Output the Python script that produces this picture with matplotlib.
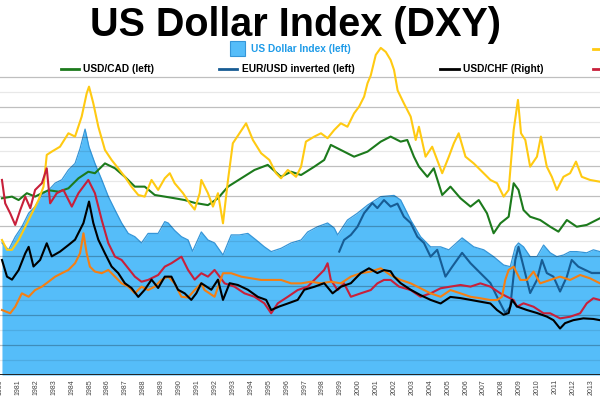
import matplotlib
matplotlib.use("Agg")
import matplotlib.pyplot as plt
from matplotlib.lines import Line2D
from matplotlib.patches import Rectangle

plt.rcParams['font.family'] = ['Liberation Sans', 'DejaVu Sans']

# ---------------- data ----------------
years_ticks = list(range(1980, 2014))

dxy_t = [1980.11, 1980.48, 1980.85, 1981.22, 1981.60, 1981.96, 1982.34, 1982.71, 1983.08, 1983.45,
         1983.82, 1984.19, 1984.47, 1984.75, 1984.97, 1985.30, 1985.68, 1986.05, 1986.42, 1986.79,
         1987.16, 1987.53, 1987.90, 1988.27, 1988.83, 1989.20, 1989.39, 1989.75, 1990.13, 1990.50,
         1990.75, 1991.24, 1991.61, 1991.98, 1992.45, 1992.91, 1993.37, 1993.84, 1994.30, 1994.76,
         1995.14, 1995.69, 1996.25, 1996.81, 1997.18, 1997.73, 1998.29, 1998.66, 1998.85, 1999.40,
         1999.96, 2000.52, 2001.26, 2002.00, 2002.37, 2002.93, 2003.48, 2004.04, 2004.60, 2005.06,
         2005.80, 2006.45, 2007.01, 2007.56, 2008.12, 2008.49, 2008.77, 2008.95, 2009.23, 2009.60,
         2009.98, 2010.35, 2010.72, 2011.09, 2011.46, 2011.83, 2012.20, 2012.76, 2013.13, 2013.50]
dxy_v = [88.6, 84.0, 92.8, 99.5, 108.6, 113.0, 120.8, 124.0, 128.8, 131.0,
         137.6, 142.0, 152.0, 165.0, 153.0, 142.0, 131.0, 119.7, 110.7, 102.0,
         95.0, 92.8, 88.6, 95.0, 95.0, 102.9, 102.0, 97.0, 92.8, 90.6,
         83.0, 96.0, 90.6, 88.6, 80.5, 94.0, 94.0, 95.0, 90.6, 86.0,
         82.8, 85.0, 88.6, 90.6, 96.0, 99.5, 102.0, 98.6, 94.0, 104.0,
         108.6, 114.0, 119.7, 120.5, 117.4, 104.0, 92.8, 86.0, 86.0, 84.0,
         92.0, 86.0, 84.0, 79.4, 73.8, 72.7, 86.0, 88.6, 86.0, 79.4,
         79.4, 87.2, 82.0, 79.4, 80.5, 82.8, 82.8, 82.0, 84.0, 82.8]

cad_t = [1980.11, 1980.67, 1981.04, 1981.50, 1981.96, 1982.34, 1982.71, 1983.27, 1983.82, 1984.38,
         1984.93, 1985.30, 1985.86, 1986.42, 1986.97, 1987.53, 1988.08, 1988.64, 1989.20, 1989.75,
         1990.31, 1990.87, 1991.61, 1992.17, 1992.73, 1993.47, 1994.21, 1994.95, 1995.69, 1996.25,
         1996.81, 1997.55, 1998.10, 1998.47, 1999.03, 1999.77, 2000.52, 2001.26, 2001.81, 2002.37,
         2002.74, 2003.11, 2003.39, 2003.86, 2004.22, 2004.69, 2005.15, 2005.71, 2006.27, 2006.73,
         2007.19, 2007.56, 2007.94, 2008.40, 2008.68, 2008.95, 2009.23, 2009.60, 2010.16, 2010.72,
         2011.18, 2011.65, 2012.20, 2012.76, 2013.50]
cad_v = [118.6, 119.7, 117.4, 122.0, 119.7, 122.0, 124.0, 123.0, 125.3, 132.0,
         136.4, 135.4, 142.0, 138.7, 133.0, 126.4, 126.4, 120.8, 119.7, 118.6,
         117.4, 115.5, 114.0, 118.6, 126.4, 132.0, 137.6, 141.0, 133.0, 136.4,
         134.2, 139.8, 144.3, 154.4, 151.0, 146.5, 149.9, 156.6, 160.0, 156.6,
         157.7, 146.5, 139.8, 133.0, 138.7, 120.8, 126.4, 118.6, 113.0, 117.4,
         108.5, 95.1, 101.8, 106.2, 128.7, 124.2, 110.7, 106.2, 104.0, 99.5,
         96.2, 104.0, 99.5, 100.7, 105.2]

eur_t = [1998.94, 1999.21, 1999.59, 1999.96, 2000.33, 2000.79, 2001.07, 2001.44, 2001.81, 2002.19,
         2002.55, 2002.93, 2003.30, 2003.67, 2004.04, 2004.41, 2004.87, 2005.25, 2005.80, 2006.27,
         2006.82, 2007.38, 2007.84, 2008.21, 2008.49, 2008.77, 2008.95, 2009.23, 2009.60, 2009.98,
         2010.26, 2010.53, 2010.90, 2011.27, 2011.65, 2011.92, 2012.29, 2012.67, 2013.04, 2013.50]
eur_v = [82.8, 90.6, 94.0, 99.5, 108.6, 115.4, 112.0, 117.4, 113.0, 115.0,
         106.2, 102.0, 92.8, 88.6, 79.4, 84.0, 66.0, 72.7, 82.0, 75.0,
         68.4, 61.7, 50.3, 41.6, 45.8, 77.2, 86.0, 72.7, 55.0, 63.8,
         77.2, 68.4, 66.0, 56.0, 66.0, 77.2, 72.7, 70.5, 68.4, 68.4]

chf_t = [1980.11, 1980.39, 1980.67, 1981.04, 1981.41, 1981.60, 1981.87, 1982.24, 1982.61, 1982.89,
         1983.35, 1983.82, 1984.19, 1984.66, 1984.97, 1985.21, 1985.49, 1985.86, 1986.23, 1986.60,
         1986.97, 1987.34, 1987.72, 1988.08, 1988.46, 1988.83, 1989.20, 1989.57, 1989.94, 1990.31,
         1990.68, 1990.96, 1991.24, 1991.80, 1992.17, 1992.45, 1992.82, 1993.28, 1993.84, 1994.40,
         1994.86, 1995.14, 1995.60, 1996.07, 1996.62, 1996.99, 1997.55, 1998.10, 1998.57, 1999.03,
         1999.59, 2000.14, 2000.60, 2001.07, 2001.44, 2001.81, 2002.00, 2002.37, 2002.93, 2003.48,
         2004.04, 2004.60, 2005.15, 2005.71, 2006.27, 2006.82, 2007.38, 2007.75, 2008.12, 2008.40,
         2008.59, 2008.86, 2009.42, 2009.98, 2010.53, 2010.90, 2011.27, 2011.55, 2012.01, 2012.57,
         2013.13, 2013.50]
chf_v = [1.93, 1.65, 1.60, 1.76, 2.04, 2.15, 1.82, 1.93, 2.21, 1.99,
         2.07, 2.18, 2.27, 2.55, 2.91, 2.55, 2.27, 2.04, 1.82, 1.71,
         1.54, 1.46, 1.31, 1.43, 1.60, 1.46, 1.65, 1.65, 1.43, 1.37,
         1.26, 1.37, 1.54, 1.43, 1.60, 1.26, 1.54, 1.51, 1.43, 1.31,
         1.26, 1.09, 1.15, 1.20, 1.26, 1.43, 1.48, 1.54, 1.37, 1.48,
         1.54, 1.71, 1.79, 1.71, 1.76, 1.74, 1.65, 1.54, 1.43, 1.34,
         1.26, 1.20, 1.31, 1.29, 1.26, 1.23, 1.20, 1.09, 1.01, 1.04,
         1.26, 1.15, 1.09, 1.04, 0.98, 0.92, 0.78, 0.87, 0.92, 0.95,
         0.94, 0.92]

yel_t = [1980.11, 1980.39, 1980.67, 1981.04, 1981.41, 1981.78, 1982.15, 1982.43, 1982.61, 1982.89,
         1983.35, 1983.82, 1984.19, 1984.56, 1984.84, 1984.97, 1985.21, 1985.49, 1985.86, 1986.23,
         1986.60, 1986.97, 1987.34, 1987.72, 1988.08, 1988.46, 1988.83, 1989.20, 1989.48, 1989.75,
         1990.22, 1990.59, 1990.87, 1991.15, 1991.24, 1991.61, 1991.89, 1992.17, 1992.45, 1992.73,
         1993.00, 1993.37, 1993.74, 1994.12, 1994.58, 1995.04, 1995.41, 1995.69, 1996.07, 1996.53,
         1996.81, 1997.08, 1997.55, 1997.92, 1998.29, 1998.66, 1999.03, 1999.40, 1999.77, 2000.05,
         2000.33, 2000.52, 2000.70, 2000.98, 2001.26, 2001.54, 2001.81, 2002.00, 2002.20, 2002.55,
         2002.93, 2003.21, 2003.39, 2003.76, 2004.13, 2004.69, 2005.06, 2005.34, 2005.61, 2005.99,
         2006.45, 2006.82, 2007.38, 2007.75, 2008.12, 2008.40, 2008.68, 2008.92, 2009.09, 2009.33,
         2009.60, 2009.98, 2010.20, 2010.53, 2010.81, 2011.09, 2011.46, 2011.83, 2012.16, 2012.48,
         2012.94, 2013.50]
yel_v = [90.6, 84.0, 84.0, 90.6, 99.5, 108.5, 117.4, 126.4, 147.7, 149.9,
         153.2, 162.2, 160.0, 173.4, 189.0, 193.5, 182.3, 166.6, 151.0, 144.3,
         138.7, 133.0, 126.4, 120.8, 119.7, 130.9, 124.2, 132.0, 135.4, 128.7,
         122.0, 115.2, 111.0, 122.0, 130.9, 122.0, 113.0, 122.0, 101.8, 130.9,
         155.5, 162.2, 168.9, 157.7, 148.8, 144.3, 135.4, 132.0, 137.6, 133.0,
         139.8, 156.6, 160.0, 162.2, 158.9, 164.4, 168.9, 166.6, 175.6, 180.1,
         186.8, 195.8, 201.0, 214.8, 219.5, 216.8, 211.4, 204.7, 191.0, 182.3,
         173.4, 157.7, 166.6, 146.5, 153.2, 135.4, 146.5, 155.5, 162.2, 146.5,
         142.0, 137.6, 130.9, 128.7, 119.7, 124.2, 164.4, 184.6, 162.2, 157.7,
         139.8, 146.5, 160.0, 139.8, 133.0, 124.2, 133.0, 135.4, 143.2, 133.0,
         130.9, 129.7]

red_t = [1980.11, 1980.29, 1980.57, 1980.85, 1981.13, 1981.41, 1981.69, 1981.96, 1982.34, 1982.61,
         1982.80, 1983.17, 1983.54, 1984.01, 1984.38, 1984.93, 1985.30, 1985.68, 1986.05, 1986.42,
         1986.79, 1987.16, 1987.53, 1987.90, 1988.27, 1988.83, 1989.20, 1989.57, 1990.13, 1990.50,
         1990.87, 1991.24, 1991.61, 1991.98, 1992.54, 1993.09, 1993.65, 1994.21, 1994.76, 1995.14,
         1995.51, 1996.07, 1996.62, 1997.18, 1997.73, 1998.10, 1998.29, 1998.47, 1998.85, 1999.21,
         1999.59, 2000.14, 2000.70, 2001.07, 2001.44, 2001.81, 2002.28, 2002.93, 2003.48, 2004.04,
         2004.60, 2005.15, 2005.71, 2006.27, 2006.82, 2007.38, 2007.94, 2008.31, 2008.68, 2008.86,
         2009.23, 2009.79, 2010.35, 2010.72, 2011.27, 2011.83, 2012.39, 2012.76, 2013.13, 2013.50]
red_v = [130.9, 115.2, 108.5, 100.7, 110.7, 119.7, 111.9, 124.2, 128.7, 138.7,
         115.2, 122.0, 124.2, 113.0, 122.0, 130.9, 122.0, 104.0, 88.4, 79.4,
         77.2, 71.6, 66.0, 62.6, 63.8, 67.1, 72.7, 75.0, 79.4, 70.5,
         64.0, 68.3, 66.0, 70.5, 61.5, 59.3, 54.8, 52.5, 48.1, 41.4,
         48.1, 52.5, 57.0, 59.3, 66.0, 70.5, 75.0, 63.8, 57.0, 61.5,
         52.5, 54.8, 57.0, 61.5, 63.8, 63.8, 59.3, 57.0, 52.5, 54.8,
         58.2, 59.3, 60.4, 59.3, 61.5, 59.3, 54.8, 52.5, 50.3, 45.8,
         48.1, 45.8, 41.4, 41.4, 38.0, 39.1, 41.4, 48.1, 51.5, 50.3]

org_t = [1980.11, 1980.57, 1980.85, 1981.22, 1981.60, 1981.96, 1982.34, 1982.71, 1983.08, 1983.45,
         1983.82, 1984.19, 1984.47, 1984.66, 1984.84, 1985.02, 1985.30, 1985.68, 1986.05, 1986.42,
         1986.79, 1987.16, 1987.53, 1987.90, 1988.27, 1988.64, 1989.01, 1989.39, 1989.75, 1990.13,
         1990.50, 1990.87, 1991.24, 1991.42, 1991.98, 1992.45, 1992.91, 1993.47, 1994.02, 1994.58,
         1995.14, 1995.69, 1996.25, 1996.81, 1997.36, 1997.92, 1998.47, 1999.03, 1999.59, 2000.14,
         2000.70, 2001.26, 2001.81, 2002.37, 2002.93, 2003.48, 2004.04, 2004.60, 2005.15, 2005.71,
         2006.27, 2006.82, 2007.38, 2007.75, 2008.03, 2008.21, 2008.40, 2008.68, 2009.05, 2009.42,
         2009.79, 2010.16, 2010.72, 2011.27, 2011.83, 2012.39, 2012.94, 2013.50]
org_v = [43.6, 41.4, 45.8, 54.8, 52.5, 57.0, 59.3, 62.6, 66.0, 68.3,
         70.5, 75.0, 81.7, 95.1, 81.7, 72.7, 69.4, 68.3, 70.5, 66.0,
         61.5, 59.3, 54.8, 59.3, 57.0, 59.3, 63.8, 66.0, 61.5, 52.5,
         52.0, 57.0, 61.5, 57.0, 52.5, 68.3, 68.3, 66.0, 64.9, 63.8,
         63.8, 63.8, 61.5, 61.5, 62.6, 61.5, 62.6, 61.5, 66.0, 68.3,
         69.4, 71.6, 67.0, 63.8, 61.5, 58.2, 54.8, 52.5, 57.0, 54.8,
         52.5, 51.5, 50.3, 50.3, 52.5, 63.8, 70.5, 72.7, 63.8, 63.8,
         69.4, 61.5, 63.8, 66.0, 63.8, 67.1, 64.9, 61.5]

# ---------------- styling ----------------
C_FILL = '#55BDF9'
C_EDGE = '#3596D8'
C_EUR = '#175C94'
C_CAD = '#1C7A1C'
C_YEL = '#FFCA12'
C_RED = '#C8203A'
C_ORG = '#F57F12'
C_CHF = '#000000'

fig = plt.figure(figsize=(6, 4), dpi=100)
Y_TOP = 224.8
ax = fig.add_axes([0.0, 25 / 400, 1.0, 335 / 400])
ax.set_xlim(1980.11, 2013.50)
ax.set_ylim(0, Y_TOP)

ax.fill_between(dxy_t, dxy_v, 0, color=C_FILL, lw=0, zorder=1)
ax.plot(dxy_t, dxy_v, color=C_EDGE, lw=0.9, zorder=1.2)

for v in range(10, 201, 10):
    if v % 20 == 0:
        ax.axhline(v, color='black', alpha=0.25, lw=0.9, zorder=1.5)
    else:
        ax.axhline(v, color='black', alpha=0.09, lw=0.9, zorder=1.5)
ax.axhline(0, color='#222222', lw=1.4, zorder=5)

lw = 1.5
ax.plot(eur_t, eur_v, color=C_EUR, lw=lw, zorder=3)
ax.plot(cad_t, cad_v, color=C_CAD, lw=lw, zorder=3)
ax.plot(yel_t, yel_v, color=C_YEL, lw=lw, zorder=3, clip_on=False)
ax.plot(red_t, red_v, color=C_RED, lw=lw, zorder=3)
ax.plot(org_t, org_v, color=C_ORG, lw=lw, zorder=3)

ax2 = ax.twinx()
ax2.set_ylim(0, Y_TOP / 40)
ax2.plot(chf_t, chf_v, color=C_CHF, lw=lw)
ax2.axis('off')

for s in ax.spines.values():
    s.set_visible(False)
ax.set_yticks([])
ax.set_xticks(years_ticks)
ax.set_xticklabels([str(y) for y in years_ticks], rotation=90, fontsize=5, color='#444444')
ax.tick_params(axis='x', length=0, pad=3)

# ---------------- title & legend ----------------
def fx(px):
    return px / 600.0

def fy(py):
    return 1 - py / 400.0

fig.text(fx(295.5), fy(36), 'US Dollar Index (DXY)', ha='center', va='baseline',
         fontsize=28.5, fontweight='bold', color='black')

fig.add_artist(Rectangle((fx(230), fy(56)), 15 / 600, 15 / 400, transform=fig.transFigure,
                         facecolor=C_FILL, edgecolor=C_EDGE, lw=0.8))
fig.text(fx(251), fy(48.5), 'US Dollar Index (left)', ha='left', va='center',
         fontsize=7.3, fontweight='bold', color='#1E9BE8')

row2 = 68.5
items = [(61, 78.5, C_CAD, 'USD/CAD (left)'),
         (219, 237, C_EUR, 'EUR/USD inverted (left)'),
         (440, 458.5, C_CHF, 'USD/CHF (Right)')]
for x0, x1, col, lab in items:
    fig.add_artist(Line2D([fx(x0), fx(x1)], [fy(row2), fy(row2)], color=col, lw=2.0,
                          transform=fig.transFigure))
    fig.text(fx(x1 + 4.5), fy(row2), lab, ha='left', va='center', fontsize=7.3,
             fontweight='bold', color='black')

fig.add_artist(Line2D([fx(593), 1.0], [fy(48.5), fy(48.5)], color=C_YEL, lw=2.0,
                      transform=fig.transFigure))
fig.add_artist(Line2D([fx(593), 1.0], [fy(row2), fy(row2)], color=C_RED, lw=2.0,
                      transform=fig.transFigure))

fig.savefig('out.png', dpi=100)
